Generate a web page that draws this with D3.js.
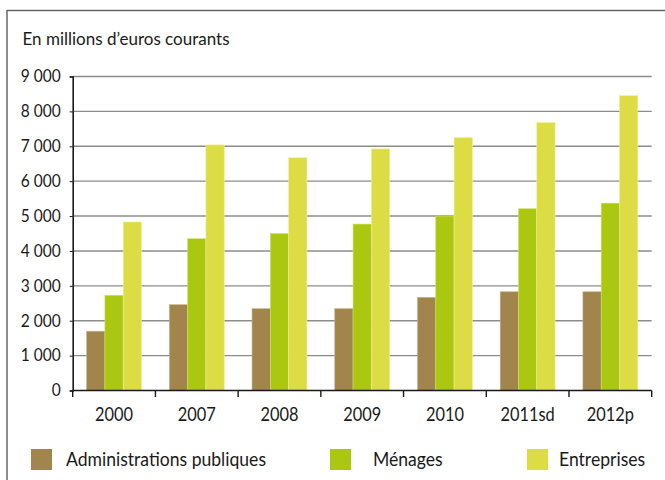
<!DOCTYPE html>
<html>
<head>
<meta charset="utf-8">
<script src="https://cdn.jsdelivr.net/npm/d3@7"></script>
<style>
  body { margin: 0; background: #fff; }
  text { font-family: Lato, "Noto Sans", sans-serif; fill: #1a1a1a; }
</style>
</head>
<body>
<div id="chart"></div>
<script>
// data
var years = ["2000", "2007", "2008", "2009", "2010", "2011sd", "2012p"];
var series = ["Administrations publiques", "Ménages", "Entreprises"];
var adminValues = [1700, 2460, 2345, 2345, 2670, 2830, 2830];
var menagesValues = [2730, 4350, 4500, 4770, 5000, 5210, 5370];
var entreprisesValues = [4830, 7040, 6670, 6925, 7250, 7680, 8450];
var yTicks = [0, 1000, 2000, 3000, 4000, 5000, 6000, 7000, 8000, 9000];
var colors = ["#a2844d", "#acc70f", "#dcdd45"];
var edgeColors = ["#c8b690", "#cfe070", "#eeef98"];

var W = 665, H = 480;
var margin = { left: 72.7, right: 13.3, top: 76.5, bottom: 89.5 };

// squeeze text horizontally so the first string gets the wanted width (original font is narrower)
function condense(sel, sampleWidth) {
  var k = sampleWidth / sel.node().getComputedTextLength();
  sel.each(function() {
    var w = this.getComputedTextLength();
    d3.select(this).attr("textLength", w * k).attr("lengthAdjust", "spacingAndGlyphs");
  });
}

var svg = d3.select("#chart").append("svg")
  .attr("width", W).attr("height", H);

// frame
svg.append("rect")
  .attr("x", 7).attr("y", 10.5)
  .attr("width", W + 20).attr("height", H + 20)
  .attr("fill", "none").attr("stroke", "#5e5e5e").attr("stroke-width", 1.4);

var title = svg.append("text")
  .attr("x", 22.5).attr("y", 44.5)
  .style("font-size", "17px")
  .text("En millions d\u2019euros courants");
condense(title, 207);

var x0 = d3.scaleBand().domain(years)
  .range([margin.left, W - margin.right]).padding(0);
var x1 = d3.scaleBand().domain(series)
  .range([0, x0.bandwidth()]).paddingInner(0).paddingOuter(0.76);
var y = d3.scaleLinear().domain([0, 9000])
  .range([H - margin.bottom, margin.top]);

// gridlines
svg.append("g").selectAll("line").data(yTicks.slice(1)).enter().append("line")
  .attr("x1", margin.left).attr("x2", W - margin.right)
  .attr("y1", function(d) { return y(d); })
  .attr("y2", function(d) { return y(d); })
  .attr("stroke", "#8c8c8c").attr("stroke-width", 1.4);

// bars
var table = years.map(function(yr, i) {
  return { year: yr, values: [adminValues[i], menagesValues[i], entreprisesValues[i]] };
});

var groups = svg.append("g").selectAll("g").data(table).enter().append("g")
  .attr("transform", function(d) { return "translate(" + x0(d.year) + ",0)"; });

groups.selectAll("rect")
  .data(function(d) { return d.values.map(function(v, j) { return { key: series[j], v: v, j: j }; }); })
  .enter().append("rect")
  .attr("x", function(d) { return x1(d.key); })
  .attr("y", function(d) { return y(d.v); })
  .attr("width", x1.bandwidth())
  .attr("height", function(d) { return y(0) - y(d.v); })
  .attr("fill", function(d) { return colors[d.j]; })
  .attr("stroke", function(d) { return edgeColors[d.j]; })
  .attr("stroke-width", 0.6);

// y axis
var yAxis = d3.axisLeft(y).tickValues(yTicks).tickSize(3).tickPadding(9)
  .tickFormat(function(d) { return d3.format(",")(d).replace(/,/g, " "); });
var gy = svg.append("g").attr("transform", "translate(" + margin.left + ",0)").call(yAxis);
gy.select(".domain").attr("stroke", "#1a1a1a").attr("stroke-width", 1.6);
gy.selectAll(".tick line").attr("stroke", "#1a1a1a");
var yl = gy.selectAll(".tick text").style("font-size", "16.5px").style("font-family", null).attr("fill", "#1a1a1a");
var ky = 40 / yl.filter(function(d) { return d === 9000; }).node().getComputedTextLength();
yl.each(function() {
  d3.select(this).attr("textLength", this.getComputedTextLength() * ky).attr("lengthAdjust", "spacingAndGlyphs");
});

// x axis with ticks at band edges
var gx = svg.append("g").attr("transform", "translate(0," + y(0) + ")");
gx.append("line")
  .attr("x1", margin.left).attr("x2", W - margin.right)
  .attr("stroke", "#1a1a1a").attr("stroke-width", 1.6);
var edges = years.map(function(d) { return x0(d); }).concat([W - margin.right]);
gx.selectAll(".edge").data(edges).enter().append("line")
  .attr("class", "edge")
  .attr("x1", function(d) { return d; }).attr("x2", function(d) { return d; })
  .attr("y1", 0).attr("y2", 6.5)
  .attr("stroke", "#1a1a1a").attr("stroke-width", 1.4);
var xl = gx.selectAll("text").data(years).enter().append("text")
  .attr("x", function(d) { return x0(d) + x0.bandwidth() / 2; })
  .attr("y", 30)
  .attr("text-anchor", "middle")
  .style("font-size", "19.5px")
  .text(function(d) { return d; });
condense(xl, 38);

// legend
var legendX = [31, 330, 527];
var leg = svg.append("g").selectAll("g").data(series).enter().append("g")
  .attr("transform", function(d, i) { return "translate(" + legendX[i] + ",449)"; });
leg.append("rect")
  .attr("width", 21).attr("height", 21)
  .attr("fill", function(d, i) { return colors[i]; });
var lt = leg.append("text")
  .attr("x", function(d, i) { return [35, 43, 32][i]; })
  .attr("y", 16.5)
  .style("font-size", "18.5px")
  .text(function(d) { return d; });
condense(lt, 200);
</script>
</body>
</html>
